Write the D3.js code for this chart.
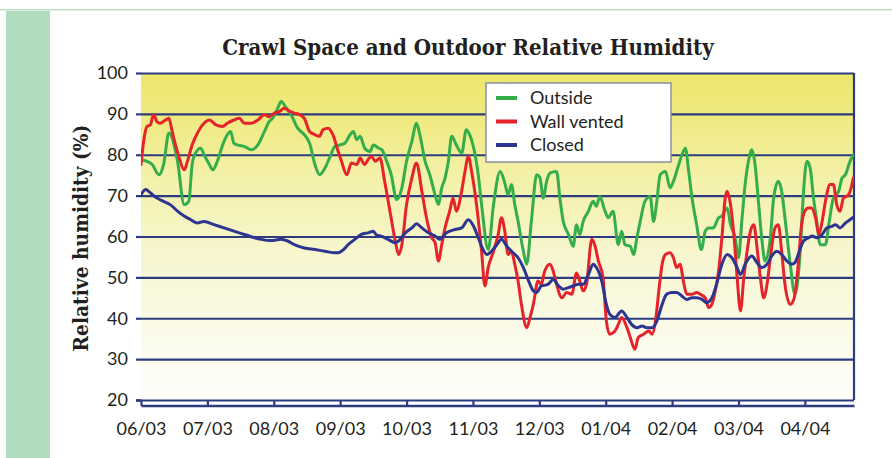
<!DOCTYPE html>
<html><head><meta charset="utf-8">
<script src="https://cdn.jsdelivr.net/npm/d3@7"></script>
<style>html,body{margin:0;padding:0;background:#fff;} svg{display:block}</style>
</head><body><svg id="c" width="892" height="458"></svg>
<script>
// ---------- data ----------
const monthLabels = ["06/03","07/03","08/03","09/03","10/03","11/03","12/03","01/04","02/04","03/04","04/04"];
const yTicks = [20,30,40,50,60,70,80,90,100];
const seriesNames = ["Outside","Wall vented","Closed"];

// months since 06/03 and relative humidity (%)
const outsideMonth = [0,.09,.17,.27,.34,.42,.55,.65,.72,.77,.82,.90,.95,1.03,1.08,1.15,1.23,1.30,1.35,1.40,1.45,1.56,1.66,1.76,1.86,1.93,1.98,2.06,2.11,2.19,2.26,2.36,2.46,2.54,2.62,2.69,2.77,2.84,2.92,3.00,3.07,3.15,3.20,3.25,3.30,3.37,3.45,3.50,3.58,3.63,3.70,3.77,3.85,3.93,4.00,4.08,4.15,4.20,4.28,4.35,4.43,4.48,4.53,4.58,4.63,4.68,4.75,4.83,4.90,4.95,5.00,5.08,5.13,5.23,5.31,5.41,5.48,5.53,5.58,5.63,5.68,5.76,5.81,5.88,5.96,6.01,6.06,6.11,6.16,6.26,6.31,6.36,6.44,6.51,6.56,6.61,6.66,6.74,6.81,6.86,6.91,6.99,7.04,7.11,7.19,7.24,7.29,7.37,7.42,7.47,7.52,7.59,7.67,7.72,7.77,7.82,7.90,7.97,8.02,8.10,8.15,8.20,8.25,8.30,8.37,8.44,8.50,8.55,8.62,8.70,8.75,8.83,8.88,8.95,9.00,9.05,9.10,9.15,9.20,9.25,9.30,9.35,9.40,9.48,9.53,9.60,9.65,9.70,9.78,9.85,9.93,9.98,10.03,10.08,10.13,10.18,10.23,10.31,10.36,10.43,10.51,10.56,10.61,10.68,10.73];
const outsideRH = [78.8,78.4,77.6,75.1,77.6,85.3,78.4,67.8,68.6,77.6,80.4,81.6,80.0,77.6,76.3,78.4,82.4,84.9,85.7,82.8,82.4,82.0,81.2,82.4,85.7,88.1,88.9,91.4,93.0,91.4,89.8,86.5,84.9,82.8,77.6,75.1,76.7,79.2,82.0,82.4,82.8,84.9,85.7,83.7,84.5,81.6,80.8,82.4,81.6,81.2,78.4,75.1,69.0,71.9,78.4,83.3,87.7,84.9,78.4,75.1,70.2,67.8,71.9,74.3,78.4,84.5,82.4,80.4,86.1,84.9,82.4,75.1,67.8,56.8,67.8,75.9,73.1,70.2,72.7,67.8,63.7,56.4,53.2,63.7,75.1,74.3,69.4,73.5,75.5,75.9,69.4,63.7,60.5,57.6,62.9,60.5,63.7,66.2,68.6,67.4,69.8,66.2,64.6,66.2,58.0,61.3,58.0,57.6,55.6,59.7,63.7,68.6,69.8,63.7,68.6,75.1,75.9,71.9,73.5,77.6,80.0,81.6,75.9,69.4,62.9,56.8,61.3,62.1,62.1,64.6,65.0,67.0,62.9,59.7,54.8,63.7,72.7,78.4,81.2,77.6,68.6,59.7,54.0,59.7,69.4,73.5,71.1,64.6,53.2,45.9,56.4,71.1,78.4,76.7,69.4,63.7,58.0,58.0,62.9,69.4,71.1,74.3,75.1,78.4,80.0];

const ventedMonth = [0,.04,.09,.14,.19,.24,.29,.37,.42,.47,.52,.57,.65,.70,.77,.85,.95,1.03,1.13,1.23,1.30,1.40,1.48,1.56,1.66,1.76,1.86,1.93,2.01,2.09,2.16,2.24,2.31,2.39,2.46,2.54,2.62,2.69,2.74,2.82,2.89,2.97,3.02,3.10,3.17,3.25,3.30,3.37,3.42,3.47,3.53,3.60,3.67,3.75,3.83,3.88,3.93,4.00,4.08,4.15,4.23,4.30,4.38,4.43,4.48,4.53,4.58,4.65,4.70,4.75,4.83,4.88,4.93,4.98,5.06,5.13,5.18,5.23,5.31,5.38,5.43,5.48,5.53,5.58,5.63,5.68,5.73,5.81,5.86,5.91,5.98,6.03,6.08,6.16,6.21,6.26,6.34,6.41,6.49,6.56,6.61,6.66,6.71,6.79,6.84,6.89,6.96,7.01,7.06,7.14,7.19,7.24,7.32,7.37,7.44,7.49,7.57,7.65,7.70,7.75,7.80,7.85,7.90,7.97,8.02,8.07,8.12,8.17,8.22,8.30,8.37,8.42,8.50,8.55,8.60,8.65,8.70,8.75,8.80,8.83,8.88,8.93,8.98,9.03,9.08,9.13,9.18,9.23,9.28,9.33,9.38,9.43,9.48,9.55,9.60,9.65,9.70,9.78,9.84,9.90,9.95,10.00,10.05,10.10,10.16,10.21,10.26,10.31,10.38,10.43,10.48,10.53,10.58,10.66,10.73];
const ventedRH = [77.6,83.3,86.9,87.3,89.8,88.1,87.7,88.5,88.9,85.7,82.4,79.6,76.3,78.4,82.4,85.3,87.7,88.5,87.3,86.9,87.7,88.5,88.9,87.7,87.7,88.5,89.8,89.3,90.2,90.6,91.4,90.6,90.2,89.8,88.9,85.7,84.9,84.5,86.1,86.5,84.9,80.8,78.4,75.1,78.0,77.6,79.2,77.6,78.8,79.6,78.4,79.2,73.5,66.2,58.9,55.6,58.0,67.8,74.3,78.0,71.1,64.6,59.7,58.5,54.0,58.0,62.1,66.2,69.4,66.2,71.1,75.9,79.6,75.9,67.0,56.4,47.9,52.4,56.4,60.5,64.6,61.3,55.6,56.4,53.2,49.1,43.4,37.7,40.2,43.4,49.1,48.3,51.5,53.2,51.5,48.3,45.0,46.3,45.9,51.1,49.1,46.7,48.3,59.3,57.6,54.0,49.9,39.3,36.1,36.9,38.5,40.2,37.7,35.3,32.4,35.3,36.1,36.9,36.1,39.3,46.7,53.2,55.6,56.0,54.8,52.4,53.2,49.1,45.9,45.9,46.3,45.9,45.0,42.6,43.4,46.7,51.5,59.7,69.4,71.1,67.8,60.5,49.9,41.8,49.9,56.4,61.3,62.9,57.2,49.9,45.0,48.3,54.8,62.1,62.9,56.4,48.3,43.4,45.0,53.2,62.9,66.2,67.0,67.0,64.6,60.5,63.7,68.6,72.7,72.7,67.8,66.2,69.4,70.2,74.3];

const closedMonth = [0,.07,.14,.24,.34,.44,.55,.65,.75,.85,.95,1.10,1.25,1.40,1.56,1.71,1.81,1.96,2.11,2.21,2.31,2.46,2.62,2.77,2.92,2.97,3.05,3.12,3.22,3.32,3.42,3.50,3.55,3.62,3.72,3.83,3.88,3.98,4.08,4.15,4.23,4.33,4.43,4.50,4.60,4.73,4.83,4.93,5.01,5.08,5.13,5.21,5.28,5.36,5.43,5.51,5.58,5.68,5.76,5.83,5.91,5.96,6.03,6.13,6.21,6.29,6.36,6.44,6.51,6.59,6.66,6.74,6.81,6.86,6.94,7.01,7.06,7.14,7.24,7.32,7.39,7.47,7.55,7.62,7.70,7.77,7.85,7.92,8.00,8.07,8.15,8.22,8.30,8.37,8.45,8.52,8.60,8.67,8.75,8.83,8.90,8.98,9.03,9.10,9.20,9.28,9.35,9.43,9.50,9.58,9.65,9.73,9.80,9.85,9.90,9.98,10.06,10.11,10.18,10.26,10.33,10.41,10.46,10.53,10.61,10.68,10.73];
const closedRH = [70.2,71.5,70.7,69.4,68.6,67.8,66.2,65.0,64.1,63.3,63.7,62.9,62.1,61.3,60.5,59.7,59.3,59.0,59.3,58.9,58.0,57.2,56.8,56.4,56.0,56.0,56.8,58.0,59.3,60.5,60.9,61.3,60.3,60.1,59.3,58.5,58.9,60.9,62.1,63.1,62.1,60.9,60.1,59.3,60.9,61.7,62.1,64.1,62.5,59.7,57.6,55.6,56.4,58.0,59.3,57.6,56.4,54.8,52.4,49.5,46.7,46.3,47.9,48.3,49.5,47.9,47.1,47.5,47.9,48.3,48.3,50.7,53.2,52.4,49.1,43.4,41.0,40.2,41.8,40.2,38.5,37.7,38.1,37.7,37.7,39.3,43.4,45.9,46.3,46.3,45.4,44.6,45.0,45.0,44.6,43.8,45.0,48.3,53.2,55.6,54.8,52.4,50.7,53.2,55.2,53.6,52.4,53.2,55.2,56.4,55.6,54.0,53.2,53.6,55.6,58.9,59.7,60.1,59.7,60.5,62.1,62.5,62.9,62.1,63.3,64.1,64.7];

// ---------- chart ----------
const svg = d3.select('#c');
const W = 892, H = 458;
const P = {left:141, right:854, top:73, bottom:400};
const x = d3.scaleLinear().domain([0, 10.74]).range([P.left, P.right]);
const y = d3.scaleLinear().domain([20, 100]).range([P.bottom, P.top]);
const navy = "#2c3c7e";
const colors = {"Outside":"#34ae4a","Wall vented":"#e5232b","Closed":"#2d3591"};

// page decoration
svg.append('rect').attr('x',0).attr('y',0).attr('width',W).attr('height',H).attr('fill','#fff');
svg.append('rect').attr('x',0).attr('y',9).attr('width',W).attr('height',1.5).attr('fill','#b9e0c4');
svg.append('rect').attr('x',6).attr('y',11).attr('width',44).attr('height',H-11).attr('fill','#b1dcbe');

// background gradient
const defs = svg.append('defs');
const g = defs.append('linearGradient').attr('id','bg').attr('x1',0).attr('y1',0).attr('x2',0).attr('y2',1);
[[0,'#ede66c'],[0.13,'#efea7e'],[0.3,'#f3f0a6'],[0.55,'#f7f6cf'],[0.8,'#fbfbea'],[1,'#fefefb']]
  .forEach(([o,c]) => g.append('stop').attr('offset',o).attr('stop-color',c));
defs.append('clipPath').attr('id','clip').append('rect')
  .attr('x',P.left).attr('y',P.top-2).attr('width',P.right-P.left).attr('height',P.bottom-P.top+4);

svg.append('rect').attr('x',P.left).attr('y',P.top).attr('width',P.right-P.left).attr('height',P.bottom-P.top).attr('fill','url(#bg)');

// gridlines
const grid = svg.append('g').attr('transform',`translate(${P.left},0)`)
  .call(d3.axisLeft(y).tickValues(yTicks).tickSize(-(P.right-P.left)).tickFormat(''));
grid.select('.domain').remove();
grid.selectAll('line').attr('stroke',navy).attr('stroke-width',2.2);

// right border
svg.append('line').attr('x1',P.right).attr('x2',P.right).attr('y1',P.top).attr('y2',P.bottom).attr('stroke',navy).attr('stroke-width',2.2);

// series lines
const line = d3.line().x(d=>x(d[0])).y(d=>y(d[1])).curve(d3.curveMonotoneX);
const series = [
  {name:"Outside", data:d3.zip(outsideMonth, outsideRH)},
  {name:"Wall vented", data:d3.zip(ventedMonth, ventedRH)},
  {name:"Closed", data:d3.zip(closedMonth, closedRH)}
];
const lg = svg.append('g').attr('clip-path','url(#clip)');
series.forEach(s => {
  lg.append('path').datum(s.data).attr('d',line).attr('fill','none')
    .attr('stroke',colors[s.name]).attr('stroke-width',3).attr('stroke-linejoin','round').attr('stroke-linecap','round');
});

// axes
const yAx = svg.append('g').attr('transform',`translate(${P.left},0)`)
  .call(d3.axisLeft(y).tickValues(yTicks).tickSize(5).tickPadding(8).tickFormat(d3.format('d')));
yAx.select('.domain').attr('stroke',navy).attr('stroke-width',2.6);
yAx.selectAll('line').attr('stroke',navy).attr('stroke-width',2.2);
yAx.selectAll('text').attr('font-family','Lato, "Open Sans", sans-serif').attr('font-size',18).attr('fill','#231f20');

const xAx = svg.append('g').attr('transform',`translate(0,${P.bottom})`)
  .call(d3.axisBottom(x).tickValues(d3.range(monthLabels.length)).tickSize(6).tickPadding(16).tickFormat(i=>monthLabels[i]));
xAx.select('.domain').attr('stroke',navy).attr('stroke-width',2.6);
xAx.selectAll('line').attr('stroke',navy).attr('stroke-width',2.2);
xAx.selectAll('text').attr('font-family','Lato, "Open Sans", sans-serif').attr('font-size',18).attr('fill','#231f20');
svg.selectAll('.domain').each(function(){ d3.select(this).attr('d', d3.select(this).attr('d').replace(/V-?[\d.]+H/,'H')); });

// title
function fit(sel, target, base) {
  const w = sel.node().getComputedTextLength();
  sel.attr('font-size', base * target / w);
}
const title = svg.append('text').attr('x',468).attr('y',55).attr('text-anchor','middle')
  .attr('font-family','"DejaVu Serif Condensed","DejaVu Serif",serif').attr('font-weight','bold')
  .attr('font-size',20).attr('fill','#231f20').text('Crawl Space and Outdoor Relative Humidity');
fit(title, 492, 20);

const ylab = svg.append('text').attr('transform','translate(88,238) rotate(-90)').attr('text-anchor','middle')
  .attr('font-family','"DejaVu Serif Condensed","DejaVu Serif",serif').attr('font-weight','bold')
  .attr('font-size',20).attr('fill','#231f20').text('Relative humidity (%)');
fit(ylab, 227, 20);

// legend
const leg = svg.append('g').attr('transform','translate(486,83)');
leg.append('rect').attr('width',185).attr('height',79).attr('fill','#fff').attr('stroke','#8c8fa3').attr('stroke-width',1.5);
seriesNames.forEach((n,i) => {
  const yy = 15 + i*23.5;
  leg.append('line').attr('x1',10).attr('x2',31).attr('y1',yy).attr('y2',yy)
    .attr('stroke',colors[n]).attr('stroke-width',4);
  leg.append('text').attr('x',44).attr('y',yy+6).attr('font-family','Lato, "Open Sans", sans-serif')
    .attr('font-size',18).attr('fill','#231f20').text(n);
});
</script></body></html>
